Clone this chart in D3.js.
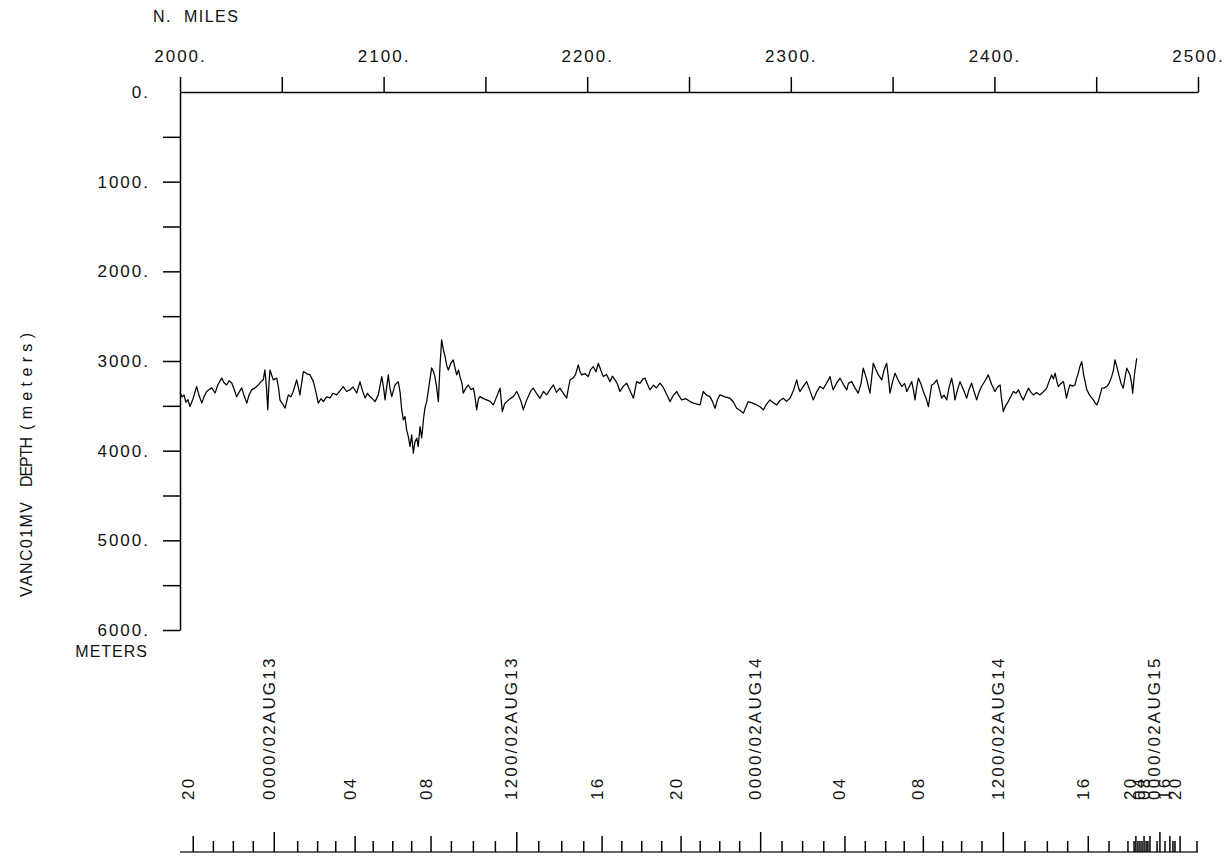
<!DOCTYPE html>
<html>
<head>
<meta charset="utf-8">
<script src="https://cdn.jsdelivr.net/npm/d3@7"></script>
<style>
  body { margin: 0; background: #fff; }
  text { font-family: "Liberation Sans", Arial, sans-serif; fill: #111; }
</style>
</head>
<body>
<div id="chart"></div>
<script>
// distance along track (nautical miles) and depth (meters)
const trackMiles = [
  2000.0, 2001.0, 2002.0, 2002.9, 2003.9, 2004.9, 2006.4, 2008.2, 2009.3, 2010.7,
  2011.8, 2013.1, 2014.2, 2015.6, 2017.2, 2018.7, 2020.5, 2021.6, 2022.9, 2024.1,
  2025.4, 2026.5, 2027.8, 2029.0, 2030.3, 2031.4, 2032.8, 2033.9, 2035.2, 2036.8,
  2038.5, 2039.8, 2040.9, 2041.7, 2042.5, 2043.1, 2043.7, 2044.2, 2045.8, 2047.5,
  2048.4, 2049.1, 2050.4, 2051.6, 2053.2, 2054.5, 2055.6, 2057.3, 2058.2, 2058.9,
  2060.6, 2062.1, 2063.9, 2065.5, 2066.8, 2067.9, 2069.3, 2070.4, 2072.0, 2073.7,
  2075.1, 2077.0, 2078.6, 2080.2, 2081.8, 2083.5, 2085.0, 2086.8, 2088.4, 2089.6,
  2090.9, 2092.1, 2093.3, 2094.5, 2095.8, 2097.4, 2099.1, 2100.0, 2100.7, 2102.3,
  2103.1, 2104.0, 2105.6, 2107.2, 2108.1, 2108.9, 2109.7, 2110.5, 2111.3, 2112.2,
  2113.0, 2113.8, 2114.6, 2115.4, 2116.3, 2117.0, 2117.9, 2118.7, 2119.6, 2120.3,
  2121.2, 2122.0, 2122.8, 2123.6, 2124.5, 2125.2, 2126.1, 2126.9, 2127.7, 2128.5,
  2129.4, 2130.2, 2131.0, 2131.8, 2133.1, 2134.2, 2135.1, 2135.9, 2136.8, 2137.5,
  2138.5, 2139.1, 2140.5, 2141.6, 2142.9, 2144.1, 2144.9, 2145.7, 2146.6, 2147.3,
  2149.1, 2150.6, 2152.3, 2153.9, 2155.5, 2157.2, 2158.3, 2159.4, 2160.5, 2162.1,
  2163.7, 2165.4, 2166.2, 2167.5, 2168.6, 2170.0, 2171.2, 2172.4, 2173.5, 2175.1,
  2176.8, 2178.5, 2180.1, 2181.7, 2183.4, 2184.9, 2186.6, 2188.3, 2189.9, 2190.8,
  2191.6, 2193.1, 2194.3, 2195.6, 2196.5, 2197.3, 2198.9, 2200.5, 2201.6, 2203.0,
  2204.3, 2205.5, 2206.8, 2207.9, 2209.5, 2211.2, 2212.4, 2213.7, 2214.9, 2216.1,
  2217.8, 2219.4, 2221.0, 2222.7, 2224.3, 2225.9, 2227.4, 2228.4, 2229.6, 2230.8,
  2232.6, 2234.0, 2235.8, 2237.5, 2239.2, 2240.7, 2242.4, 2244.0, 2245.1, 2246.4,
  2248.5, 2250.5, 2252.2, 2253.9, 2255.4, 2257.0, 2258.6, 2260.3, 2261.5, 2262.8,
  2264.0, 2265.2, 2267.7, 2270.1, 2271.9, 2273.4, 2275.0, 2276.7, 2277.8, 2279.1,
  2281.2, 2283.3, 2284.9, 2286.5, 2288.1, 2289.8, 2291.6, 2293.1, 2294.7, 2296.3,
  2297.9, 2299.6, 2301.3, 2302.9, 2303.7, 2304.5, 2306.2, 2307.8, 2309.4, 2311.0,
  2312.6, 2314.3, 2316.0, 2317.5, 2319.3, 2320.1, 2320.8, 2322.4, 2324.2, 2325.8,
  2327.5, 2328.3, 2329.9, 2331.5, 2333.1, 2334.5, 2335.6, 2337.2, 2338.9, 2340.5,
  2341.9, 2343.0, 2344.7, 2345.8, 2347.1, 2348.0, 2348.7, 2350.0, 2351.2, 2352.9,
  2354.5, 2355.9, 2357.0, 2358.1, 2359.4, 2360.3, 2361.0, 2361.8, 2362.7, 2364.0,
  2365.1, 2366.5, 2367.6, 2368.4, 2369.2, 2370.4, 2371.7, 2372.8, 2374.1, 2375.2,
  2376.6, 2377.7, 2379.0, 2379.9, 2380.6, 2381.9, 2383.1, 2384.8, 2386.4, 2387.5,
  2388.8, 2390.0, 2391.3, 2392.4, 2393.7, 2395.4, 2397.0, 2398.6, 2400.3, 2401.5,
  2402.8, 2403.5, 2404.4, 2405.5, 2406.8, 2408.2, 2409.3, 2410.6, 2411.8, 2413.1,
  2414.2, 2415.6, 2416.7, 2418.0, 2419.1, 2420.7, 2422.4, 2424.2, 2425.7, 2426.8,
  2428.1, 2429.0, 2429.8, 2430.6, 2431.4, 2432.7, 2433.9, 2434.7, 2435.4, 2436.4,
  2437.1, 2438.4, 2439.6, 2440.3, 2441.2, 2442.0, 2442.9, 2443.8, 2445.4, 2447.0,
  2448.6, 2449.5, 2450.3, 2451.2, 2451.9, 2452.8, 2453.9, 2455.2, 2456.3, 2457.6,
  2458.5, 2459.2, 2460.1, 2460.9, 2462.2, 2463.3, 2464.2, 2465.0, 2465.9, 2466.6,
  2467.4, 2467.9, 2468.8, 2469.9
];
const trackDepth = [
  3350, 3400, 3380, 3460, 3430, 3508, 3420, 3285, 3380, 3470,
  3400, 3340, 3320, 3300, 3357, 3260, 3190, 3240, 3267, 3220,
  3245, 3310, 3397, 3350, 3300, 3380, 3470, 3380, 3322, 3300,
  3267, 3230, 3210, 3100, 3300, 3545, 3250, 3100, 3210, 3190,
  3300, 3434, 3480, 3525, 3378, 3400, 3340, 3210, 3300, 3378,
  3118, 3140, 3155, 3230, 3350, 3470, 3420, 3453, 3400, 3412,
  3360, 3378, 3330, 3285, 3340, 3322, 3290, 3357, 3230, 3330,
  3412, 3360, 3397, 3420, 3453, 3378, 3174, 3300, 3434, 3155,
  3300, 3397, 3267, 3230, 3350, 3545, 3656, 3620, 3768, 3850,
  3954, 3824, 4028, 3900, 3861, 3954, 3731, 3858, 3650, 3523,
  3450, 3322, 3200, 3077, 3120, 3174, 3300, 3453, 3050, 2765,
  2880, 2951, 3050, 3100, 3020, 2988, 3080, 3155, 3100, 3174,
  3250, 3359, 3300, 3267, 3320, 3303, 3400, 3545, 3420, 3397,
  3420, 3434, 3450, 3490, 3400, 3303, 3564, 3480, 3453, 3420,
  3397, 3340, 3378, 3450, 3545, 3450, 3390, 3330, 3303, 3360,
  3415, 3340, 3378, 3320, 3267, 3350, 3303, 3360, 3415, 3300,
  3210, 3190, 3150, 3043, 3120, 3155, 3140, 3174, 3100, 3062,
  3120, 3025, 3110, 3174, 3150, 3230, 3170, 3210, 3260, 3340,
  3280, 3248, 3330, 3415, 3230, 3250, 3200, 3192, 3260, 3322,
  3270, 3300, 3248, 3300, 3380, 3453, 3380, 3340, 3390, 3434,
  3420, 3453, 3470, 3480, 3490, 3340, 3380, 3397, 3450, 3527,
  3430, 3378, 3400, 3415, 3460, 3527, 3550, 3582, 3520, 3453,
  3470, 3490, 3510, 3545, 3480, 3434, 3470, 3490, 3440, 3415,
  3450, 3415, 3330, 3210, 3290, 3340, 3280, 3230, 3330, 3434,
  3350, 3285, 3310, 3250, 3174, 3260, 3322, 3250, 3192, 3260,
  3322, 3250, 3230, 3300, 3359, 3250, 3080, 3200, 3359, 3025,
  3100, 3155, 3210, 3100, 3025, 3200, 3359, 3230, 3136, 3220,
  3285, 3250, 3340, 3290, 3230, 3330, 3434, 3300, 3192, 3260,
  3340, 3420, 3508, 3380, 3267, 3250, 3210, 3300, 3415, 3380,
  3434, 3300, 3192, 3300, 3434, 3320, 3230, 3320, 3415, 3320,
  3248, 3340, 3434, 3350, 3285, 3220, 3155, 3260, 3340, 3290,
  3267, 3420, 3564, 3500, 3453, 3390, 3340, 3360, 3322, 3390,
  3434, 3360, 3303, 3350, 3378, 3350, 3378, 3340, 3303, 3230,
  3155, 3200, 3136, 3220, 3285, 3250, 3230, 3320, 3415, 3320,
  3267, 3280, 3267, 3200, 3136, 3060, 3006, 3150, 3322, 3390,
  3434, 3470, 3490, 3440, 3380, 3303, 3300, 3285, 3250, 3174,
  3100, 2988, 3060, 3136, 3250, 3303, 3180, 3080, 3120, 3155,
  3250, 3359, 3150, 2969
];

// top and left axis ticks
const mileTicks = [2000, 2050, 2100, 2150, 2200, 2250, 2300, 2350, 2400, 2450, 2500];
const depthTicks = [0, 500, 1000, 1500, 2000, 2500, 3000, 3500, 4000, 4500, 5000, 5500, 6000];

// time ticks along the bottom: position in miles, label, kind
const timeMiles = [
  2006.5, 2016.4, 2026.2, 2036.0, 2046.3, 2057.8, 2067.6, 2076.5, 2086.0, 2094.9,
  2104.5, 2113.8, 2123.3, 2133.3, 2144.1, 2154.9, 2165.4, 2176.2, 2187.5, 2198.3,
  2207.3, 2217.0, 2226.8, 2236.6, 2246.1, 2255.5, 2265.1, 2274.9, 2285.2, 2295.7,
  2305.8, 2316.2, 2326.6, 2336.6, 2346.6, 2355.7, 2365.1, 2374.6, 2383.9, 2393.9,
  2404.4, 2415.0, 2426.0, 2436.0, 2446.1, 2456.3, 2465.6, 2468.6, 2469.5, 2470.5,
  2471.5, 2472.5, 2473.5, 2474.5, 2475.4, 2476.4, 2479.9, 2481.3, 2483.8, 2486.2,
  2487.7, 2488.7, 2491.2, 2499.5
];
const timeLabels = [
  "20", "", "", "", "0000/02AUG13", "", "", "", "04", "",
  "", "", "08", "", "", "", "1200/02AUG13", "", "", "",
  "16", "", "", "", "20", "", "", "", "0000/02AUG14", "",
  "", "", "04", "", "", "", "08", "", "", "",
  "1200/02AUG14", "", "", "", "16", "", "", "", "20", "",
  "", "", "04", "", "", "08", "", "0000/02AUG15", "", "16",
  "", "", "20", ""
];
const timeKind = [
  "m", "s", "s", "s", "M", "s", "s", "s", "m", "s",
  "s", "s", "m", "s", "s", "s", "M", "s", "s", "s",
  "m", "s", "s", "s", "m", "s", "s", "s", "M", "s",
  "s", "s", "m", "s", "s", "s", "m", "s", "s", "s",
  "M", "s", "s", "s", "m", "s", "s", "s", "m", "s",
  "s", "s", "m", "s", "s", "m", "s", "M", "s", "m",
  "s", "s", "m", "s"
];

const width = 1232;
const height = 856;
const margin = { top: 92, left: 180, right: 34, bottom: 226 };
const fontSize = 17;

const svg = d3.select("#chart")
    .append("svg")
    .attr("width", width)
    .attr("height", height)
    .attr("viewBox", [0, 0, width, height]);

const x = d3.scaleLinear()
    .domain([2000, 2500])
    .range([margin.left, width - margin.right]);

const y = d3.scaleLinear()
    .domain([0, 6000])
    .range([margin.top, height - margin.bottom]);

function styleAxis(g) {
    g.attr("font-family", null).attr("font-size", null);
    g.selectAll("path, line").attr("stroke", "#000").attr("stroke-width", 1.5);
    g.selectAll("text")
        .attr("font-size", fontSize)
        .attr("letter-spacing", 2)
        .attr("fill", "#111");
}

// top axis (N. MILES)
svg.append("g")
    .attr("transform", `translate(0,${margin.top})`)
    .call(d3.axisTop(x)
        .tickValues(mileTicks)
        .tickSize(15)
        .tickSizeOuter(0)
        .tickPadding(15)
        .tickFormat(d => d % 100 === 0 ? d + "." : ""))
    .call(styleAxis);

svg.append("text")
    .attr("x", 153)
    .attr("y", 22)
    .attr("font-size", fontSize - 1)
    .attr("letter-spacing", 1.5)
    .attr("xml:space", "preserve")
    .text("N.  MILES");

// left axis (depth)
const yAxisG = svg.append("g")
    .attr("transform", `translate(${margin.left},0)`)
    .call(d3.axisLeft(y)
        .tickValues(depthTicks)
        .tickSize(17)
        .tickSizeOuter(0)
        .tickPadding(13)
        .tickFormat(d => d % 1000 === 0 ? d + "." : ""))
    .call(styleAxis);

yAxisG.selectAll(".tick").filter(d => d === 0).select("line").remove();

svg.append("text")
    .attr("x", 148)
    .attr("y", 657)
    .attr("text-anchor", "end")
    .attr("font-size", fontSize - 1)
    .attr("letter-spacing", 1)
    .text("METERS");

// rotated y title, three words spaced like the original
const titleParts = [
    { text: "VANC01MV", at: 597, len: 95 },
    { text: "DEPTH", at: 487, len: 50 },
    { text: "(meters)", at: 430, len: 97 }
];
svg.append("g")
    .selectAll("text")
    .data(titleParts)
    .join("text")
    .attr("transform", d => `translate(32,${d.at}) rotate(-90)`)
    .attr("font-size", fontSize - 1)
    .attr("textLength", d => d.len)
    .attr("lengthAdjust", "spacing")
    .text(d => d.text);

// depth trace
const line = d3.line()
    .x(d => x(d[0]))
    .y(d => y(d[1]));

svg.append("path")
    .datum(d3.zip(trackMiles, trackDepth))
    .attr("fill", "none")
    .attr("stroke", "#000")
    .attr("stroke-width", 1.25)
    .attr("stroke-linejoin", "round")
    .attr("d", line);

// time axis along the bottom
const timeBase = 852;
const tickLen = { M: 20, m: 16, s: 11 };
const timeTicks = d3.zip(timeMiles, timeLabels, timeKind);

const tg = svg.append("g");

tg.append("line")
    .attr("x1", x(2000))
    .attr("x2", x(2500))
    .attr("y1", timeBase)
    .attr("y2", timeBase)
    .attr("stroke", "#666")
    .attr("stroke-width", 2);

tg.selectAll("line.tick")
    .data(timeTicks)
    .join("line")
    .attr("class", "tick")
    .attr("x1", d => x(d[0]))
    .attr("x2", d => x(d[0]))
    .attr("y1", timeBase)
    .attr("y2", d => timeBase - tickLen[d[2]])
    .attr("stroke", "#000")
    .attr("stroke-width", 1.5);

tg.selectAll("text")
    .data(timeTicks.filter(d => d[1] !== ""))
    .join("text")
    .attr("transform", d => `translate(${x(d[0]) + 0.5},800) rotate(-90)`)
    .attr("font-size", fontSize)
    .attr("letter-spacing", 2.2)
    .text(d => d[1]);
</script>
</body>
</html>
